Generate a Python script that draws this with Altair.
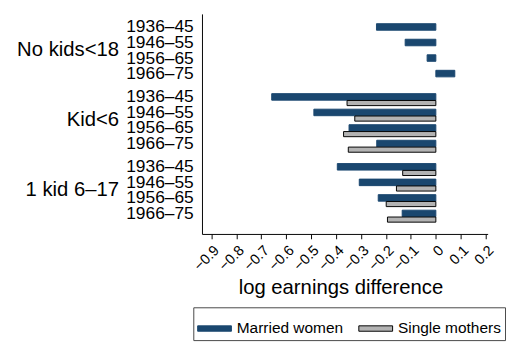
import altair as alt
import pandas as pd

groups = ["No kids<18", "Kid<6", "1 kid 6–17"]
cohorts = ["1936–45", "1946–55", "1956–65", "1966–75"]
series_names = ["Married women", "Single mothers"]
married = [
    [-0.238, -0.123, -0.035, 0.076],
    [-0.658, -0.489, -0.348, -0.237],
    [-0.395, -0.307, -0.231, -0.135],
]
single = [
    [None, None, None, None],
    [-0.356, -0.325, -0.370, -0.351],
    [-0.133, -0.158, -0.199, -0.194],
]
x_ticks = [-0.9, -0.8, -0.7, -0.6, -0.5, -0.4, -0.3, -0.2, -0.1, 0.0, 0.1, 0.2]

BLUE = "#1a476f"
GRAY = "#b3b3b3"
GAP = 4.5

rows = []
for gi, g in enumerate(groups):
    for ci, c in enumerate(cohorts):
        rows.append({"gi": gi, "ci": ci, "group": g, "cohort": c,
                     "series": series_names[0], "value": married[gi][ci]})
        if single[gi][ci] is not None:
            rows.append({"gi": gi, "ci": ci, "group": g, "cohort": c,
                         "series": series_names[1], "value": single[gi][ci]})
df = pd.DataFrame(rows)
df_groups = pd.DataFrame({"gi": list(range(len(groups))), "name": groups})

y_positions = [gi * GAP + ci for gi in range(len(groups)) for ci in range(len(cohorts))]
cohort_arr = "[" + ",".join("'" + c + "'" for c in cohorts) + "]"
y_label_expr = f"{cohort_arr}[round(datum.value - floor((datum.value + 0.01) / {GAP}) * {GAP})]"

y_scale = alt.Scale(domain=[-0.85, 13.31], reverse=True, nice=False, zero=False)
x_scale = alt.Scale(domain=[-0.9375, 0.2077], nice=False, zero=False)

y_axis = alt.Axis(
    values=y_positions, labelExpr=y_label_expr, title=None, ticks=False,
    grid=False, domainColor="black", labelFontSize=18, labelPadding=9,
    labelOverlap=False, labelFlush=False, labelColor="black",
    labelBaseline="middle",
)

legend = alt.Legend(
    title=None, orient="none", legendX=-9, legendY=304, direction="horizontal",
    symbolType="M-1,-0.16L1,-0.16L1,0.16L-1,0.16Z", symbolSize=1225,
    symbolStrokeWidth=1, labelFontSize=16, labelOffset=5, columnPadding=13,
    padding=4, strokeColor="#444444", labelColor="black",
)

bars = alt.Chart(df).transform_calculate(
    pos=f"datum.gi * {GAP} + datum.ci"
).transform_calculate(
    y_top="datum.series == 'Married women' ? datum.pos - 0.22 : datum.pos + 0.22",
    y_bot="datum.series == 'Married women' ? datum.pos + 0.2 : datum.pos + 0.55",
    zero="0",
).mark_bar(strokeWidth=1).encode(
    x=alt.X("value:Q", scale=x_scale, axis=alt.Axis(
        values=x_ticks,
        labelExpr="abs(datum.value) < 1e-9 ? '0' : format(datum.value, '.1f')",
        title="log earnings difference", titleFontSize=21, titleFontWeight="normal",
        titleX=143.5, titleY=62, titleAlign="center", titleBaseline="alphabetic",
        titleColor="black",
        labelAngle=315, labelAlign="right", labelBaseline="top", labelFontSize=15,
        labelPadding=4, tickSize=5, tickColor="black", domainColor="black",
        grid=False, labelOverlap=False, labelFlush=False, labelColor="black",
    )),
    x2="zero:Q",
    y=alt.Y("y_top:Q", scale=y_scale, axis=y_axis),
    y2="y_bot:Q",
    fill=alt.Fill("series:N", scale=alt.Scale(domain=series_names, range=[BLUE, GRAY]), legend=legend),
    stroke=alt.Stroke("series:N", scale=alt.Scale(domain=series_names, range=[BLUE, "black"]), legend=legend),
)

group_labels = alt.Chart(df_groups).transform_calculate(
    center=f"datum.gi * {GAP} + 1.5"
).mark_text(align="right", baseline="middle", fontSize=21, color="black").encode(
    x=alt.value(-86),
    y=alt.Y("center:Q", scale=y_scale, axis=y_axis),
    text="name:N",
)

chart = alt.layer(bars, group_labels).properties(
    width=296, height=228,
    padding={"left": 9, "top": 0, "right": 0, "bottom": 0},
    background="white",
).configure(font="Liberation Sans").configure_view(strokeWidth=0)

chart.save("out.html", embed_options={"renderer": "svg", "actions": False})
